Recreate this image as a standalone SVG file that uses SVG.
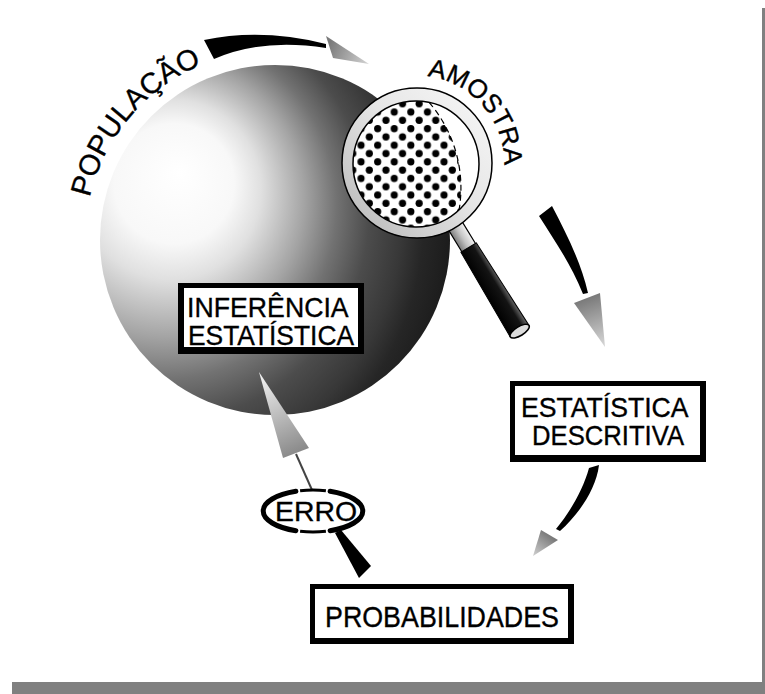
<svg xmlns="http://www.w3.org/2000/svg" width="765" height="694" viewBox="0 0 765 694">
  <defs>
    <style>
      .lbl { font-family: "Liberation Sans", Arial, Helvetica, sans-serif; fill: #000; stroke: #000; stroke-width: 0.35; }
      .frame { fill: #000; }
      .face { fill: #fff; }
      .tail { fill: #000; }
      .edge { fill: #808080; }
    </style>

    <!-- shading of the population sphere: highlight upper-left, dark toward right -->
    <radialGradient id="sphereShade" gradientUnits="userSpaceOnUse" cx="150" cy="230" r="300" fx="180" fy="172">
      <stop offset="0" stop-color="#ffffff"/>
      <stop offset="0.2" stop-color="#f8f8f8"/>
      <stop offset="0.3" stop-color="#e0e0e0"/>
      <stop offset="0.46" stop-color="#a4a4a4"/>
      <stop offset="0.58" stop-color="#727272"/>
      <stop offset="0.7" stop-color="#4c4c4c"/>
      <stop offset="0.82" stop-color="#383838"/>
      <stop offset="0.9" stop-color="#262626"/>
      <stop offset="1" stop-color="#1c1c1c"/>
    </radialGradient>

    <linearGradient id="ringShade" x1="0" y1="1" x2="1" y2="0">
      <stop offset="0" stop-color="#b4b4b4"/>
      <stop offset="0.55" stop-color="#e6e6e6"/>
      <stop offset="1" stop-color="#f8f8f8"/>
    </linearGradient>

    <linearGradient id="collarShade" x1="0" y1="0" x2="0" y2="1">
      <stop offset="0" stop-color="#f2f2f2"/>
      <stop offset="0.5" stop-color="#c4c4c4"/>
      <stop offset="1" stop-color="#7c7c7c"/>
    </linearGradient>

    <linearGradient id="handleShade" x1="0" y1="0" x2="0" y2="1">
      <stop offset="0" stop-color="#6a6a6a"/>
      <stop offset="0.3" stop-color="#141414"/>
      <stop offset="1" stop-color="#000"/>
    </linearGradient>

    <!-- halftone seen through the lens -->
    <pattern id="dots" patternUnits="userSpaceOnUse" x="0" y="0" width="16.6" height="16.6">
      <circle cx="4.15" cy="4.15" r="3.6" fill="#000"/>
      <circle cx="12.45" cy="12.45" r="3.6" fill="#000"/>
    </pattern>
    <clipPath id="lensGlass"><circle cx="416" cy="164" r="63"/></clipPath>
    <clipPath id="viewedSphere"><circle cx="330" cy="188" r="131"/></clipPath>

    <!-- arrowhead fills, fading toward the tip -->
    <linearGradient id="head1" gradientUnits="userSpaceOnUse" x1="328" y1="47" x2="369" y2="64">
      <stop offset="0" stop-color="#7a7a7a"/>
      <stop offset="1" stop-color="#d4d4d4"/>
    </linearGradient>
    <linearGradient id="head2" gradientUnits="userSpaceOnUse" x1="587" y1="298" x2="605" y2="347">
      <stop offset="0" stop-color="#7a7a7a"/>
      <stop offset="1" stop-color="#d8d8d8"/>
    </linearGradient>
    <linearGradient id="head3" gradientUnits="userSpaceOnUse" x1="549" y1="535" x2="533" y2="556">
      <stop offset="0" stop-color="#7a7a7a"/>
      <stop offset="1" stop-color="#d0d0d0"/>
    </linearGradient>
    <linearGradient id="head4" gradientUnits="userSpaceOnUse" x1="296" y1="453" x2="259" y2="372">
      <stop offset="0" stop-color="#8a8a8a"/>
      <stop offset="1" stop-color="#f6f6f6"/>
    </linearGradient>

    <path id="popArc" d="M 85 240 A 190 190 0 0 1 275 50" fill="none"/>
    <path id="amoArc" d="M 387.2 81.2 A 87 87 0 0 1 492.3 206.5" fill="none"/>
  </defs>

  <rect width="765" height="694" fill="#fff"/>

  <!-- page shadow -->
  <rect class="edge" x="762" y="8" width="3" height="686"/>
  <rect class="edge" x="12" y="682" width="753" height="12"/>

  <!-- population sphere -->
  <g id="populacao">
    <circle cx="275" cy="240" r="175" fill="url(#sphereShade)"/>
    <text class="lbl" font-size="29"><textPath href="#popArc" startOffset="133" text-anchor="middle">POPULAÇÃO</textPath></text>
  </g>

  <!-- connectors -->
  <g id="connectors">
    <!-- população -> amostra -->
    <path class="tail" d="M 204 40 Q 262 28 326 44 L 326 48 Q 262 38 214 59 Z"/>
    <polygon points="326,36 333,58 369,64" fill="url(#head1)"/>
    <!-- amostra -> estatística descritiva -->
    <path class="tail" d="M 539 216 L 552 206 C 566 233 581 262 588 293 L 583 294 C 570 262 554 240 539 216 Z"/>
    <polygon points="574,303 600,293 605,347" fill="url(#head2)"/>
    <!-- estatística descritiva -> probabilidades -->
    <path class="tail" d="M 589 468 L 599 465 C 596 490 578 515 560 531 L 556 529 C 570 512 583 490 589 468 Z"/>
    <polygon points="541,530 558,540 533,556" fill="url(#head3)"/>
    <!-- probabilidades -> erro -> inferência -->
    <path class="tail" d="M 335 533 L 341 530 L 371 566 L 359 578 Z"/>
    <line x1="312" y1="490" x2="296" y2="454" stroke="#444" stroke-width="2"/>
    <polygon points="283,458 309,448 259,372" fill="url(#head4)"/>
  </g>

  <!-- sample: magnifying glass -->
  <g id="amostra">
    <g transform="translate(417,163) rotate(58.6)">
      <rect x="70" y="-8" width="30" height="16" fill="url(#collarShade)" stroke="#000" stroke-width="1.2"/>
      <path d="M 99 -9 L 197 -11 L 197 11 L 99 9 Z" fill="url(#handleShade)" stroke="#000" stroke-width="1"/>
      <ellipse cx="197" cy="0" rx="4.5" ry="11" fill="#dcdcdc" stroke="#000" stroke-width="1.5"/>
    </g>
    <circle cx="417" cy="163" r="75" fill="url(#ringShade)" stroke="#000" stroke-width="1.5"/>
    <circle cx="416" cy="164" r="63" fill="#fff" stroke="#000" stroke-width="1.5"/>
    <g clip-path="url(#lensGlass)">
      <rect x="340" y="90" width="160" height="150" fill="url(#dots)" clip-path="url(#viewedSphere)"/>
    </g>
    <path d="M 429.1 102.4 A 131 131 0 0 1 459.1 209.8" fill="none" stroke="#000" stroke-width="1.2" stroke-dasharray="6 4"/>
    <text class="lbl" font-size="26"><textPath href="#amoArc" startOffset="105" text-anchor="middle">AMOSTRA</textPath></text>
  </g>

  <g id="inferencia">
    <rect class="frame" x="178" y="283" width="186" height="71"/>
    <rect class="face" x="184" y="288" width="174" height="59"/>
    <text class="lbl" font-size="28" text-anchor="middle">
      <tspan x="271" y="317" textLength="160" lengthAdjust="spacingAndGlyphs">INFERÊNCIA</tspan>
      <tspan x="271" y="345" textLength="166" lengthAdjust="spacingAndGlyphs">ESTATÍSTICA</tspan>
    </text>
  </g>

  <g id="descritiva">
    <rect class="frame" x="510" y="381" width="196" height="81"/>
    <rect class="face" x="515" y="386" width="185" height="69"/>
    <text class="lbl" font-size="28" text-anchor="middle">
      <tspan x="608" y="417" textLength="166" lengthAdjust="spacingAndGlyphs">ESTATÍSTICA</tspan>
      <tspan x="608" y="445" textLength="152" lengthAdjust="spacingAndGlyphs">DESCRITIVA</tspan>
    </text>
  </g>

  <g id="probabilidades">
    <rect class="frame" x="310" y="584" width="264" height="60"/>
    <rect class="face" x="315" y="589" width="253" height="49"/>
    <text class="lbl" font-size="30" x="442" y="627" text-anchor="middle" textLength="234" lengthAdjust="spacingAndGlyphs">PROBABILIDADES</text>
  </g>

  <g id="erro">
    <path d="M 295.9 491.3 A 50 21 0 0 0 295.9 530.7" fill="none" stroke="#000" stroke-width="5" stroke-linecap="round"/>
    <path d="M 330.1 491.3 A 50 21 0 0 1 330.1 530.7" fill="none" stroke="#000" stroke-width="5" stroke-linecap="round"/>
    <path d="M 300.1 490.7 A 50 21 0 0 1 325.9 490.7" fill="none" stroke="#000" stroke-width="3"/>
    <path d="M 325.9 531.3 A 50 21 0 0 1 300.1 531.3" fill="none" stroke="#000" stroke-width="3"/>
    <text class="lbl" font-size="28" x="316" y="521" text-anchor="middle" textLength="82" lengthAdjust="spacingAndGlyphs">ERRO</text>
  </g>
</svg>
